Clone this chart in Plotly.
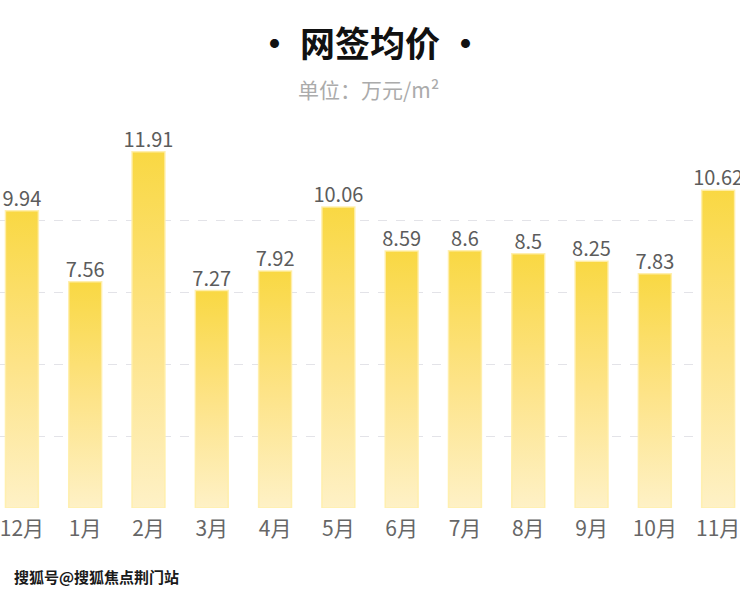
import plotly.graph_objects as go

months = ["12月", "1月", "2月", "3月", "4月", "5月", "6月", "7月", "8月", "9月", "10月", "11月"]
prices = [9.94, 7.56, 11.91, 7.27, 7.92, 10.06, 8.59, 8.6, 8.5, 8.25, 7.83, 10.62]
grid_vals = [0, 2.4, 4.8, 7.2, 9.6]

title_text = "· 网签均价 ·"
subtitle_text = "单位：万元/m²"
watermark_text = "搜狐号@搜狐焦点荆门站"

FONT = "Noto Sans CJK SC, Noto Sans, sans-serif"
BAR_W = 0.52

W, H = 740, 592
MT, MB = 149, 84
PLOT_H = H - MT - MB

fig = go.Figure()

for i, v in enumerate(prices):
    x0, x1 = i - BAR_W / 2, i + BAR_W / 2
    fig.add_trace(go.Scatter(
        x=[x0, x1, x1, x0, x0],
        y=[0, 0, v, v, 0],
        mode="lines",
        fill="toself",
        line=dict(width=1.5, color="rgba(255,238,170,0.9)"),
        fillgradient=dict(
            type="vertical",
            colorscale=[[0, "#fef1c6"], [0.5, "#fde386"], [1, "#f9d843"]],
        ),
        hoverinfo="skip",
        showlegend=False,
    ))

fig.add_trace(go.Scatter(
    x=list(range(len(prices))),
    y=prices,
    mode="text",
    text=[f"{v:g}" for v in prices],
    textposition="top center",
    textfont=dict(size=20, color="#5c5c5c", family=FONT),
    hoverinfo="skip",
    showlegend=False,
    cliponaxis=False,
))

fig.update_layout(
    width=W,
    height=H,
    margin=dict(l=0, r=0, t=MT, b=MB),
    paper_bgcolor="white",
    plot_bgcolor="white",
    font=dict(family=FONT),
    title=dict(
        text=f"<b>{title_text}</b>",
        x=0.5,
        xanchor="center",
        y=1 - 45 / H,
        yanchor="middle",
        font=dict(size=35, color="#111111", family=FONT),
    ),
    xaxis=dict(
        range=[-0.346, 11.298],
        tickvals=list(range(len(months))),
        ticktext=months,
        tickfont=dict(size=21, color="#666666", family=FONT),
        ticklabelstandoff=6,
        ticklabeloverflow="allow",
        showgrid=False,
        zeroline=False,
        showline=False,
        ticks="",
        fixedrange=True,
    ),
    yaxis=dict(
        range=[0, 12],
        tickvals=grid_vals,
        showticklabels=False,
        showgrid=True,
        gridcolor="#e3e3e8",
        gridwidth=1,
        griddash="dash",
        zeroline=False,
        showline=False,
        fixedrange=True,
    ),
    annotations=[
        dict(
            text=subtitle_text,
            xref="paper", yref="paper",
            x=0.5, y=(H - MB - 89) / PLOT_H,
            xanchor="center", yanchor="middle",
            showarrow=False,
            font=dict(size=21, color="#ababab", family=FONT),
        ),
        dict(
            text=f"<b>{watermark_text}</b>",
            xref="paper", yref="paper",
            x=12 / W, y=(H - MB - 576) / PLOT_H,
            xanchor="left", yanchor="middle",
            showarrow=False,
            font=dict(size=15, color="#1a1a1a", family=FONT),
        ),
    ],
)

fig.write_html(
    "out.html",
    config={"displayModeBar": False},
    post_script="document.body.style.margin='0';document.body.style.overflow='hidden';",
)
